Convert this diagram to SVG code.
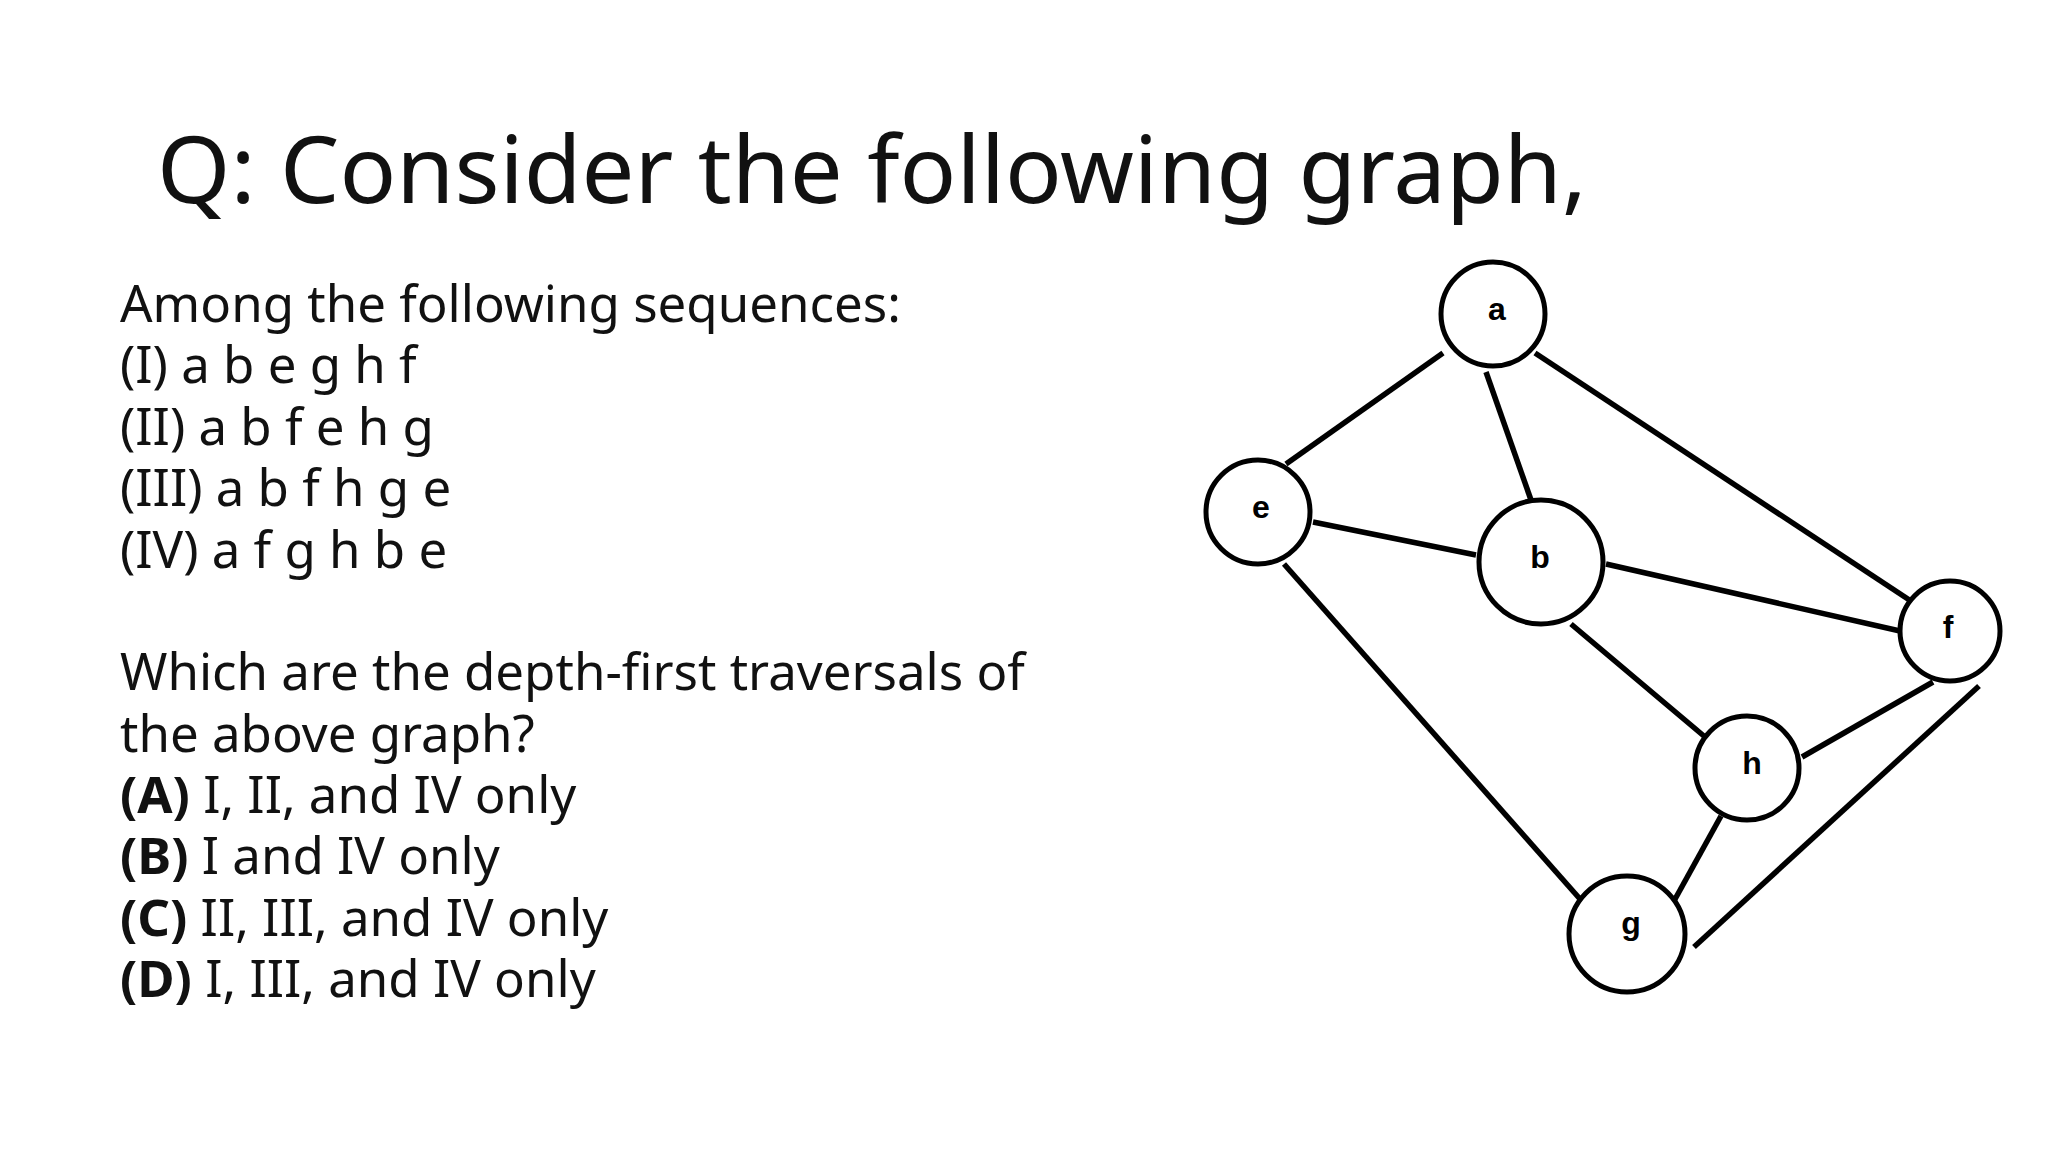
<svg xmlns="http://www.w3.org/2000/svg" width="2048" height="1152" viewBox="0 0 2048 1152">
<style>
.t{font-family:"Noto Sans","Open Sans",sans-serif;fill:#111}
.n circle{fill:#fff;stroke:#000;stroke-width:5}
.n text{font-family:"Liberation Sans",Arial,sans-serif;font-weight:bold;font-size:32px;text-anchor:middle;fill:#000}
#edges line{stroke:#000;stroke-width:5.5}
</style>
<rect width="2048" height="1152" fill="#fff"/>
<text class="t" x="157" y="203" font-size="94">Q: Consider the following graph,</text>
<g class="t" font-size="51">
<text x="120" y="322">Among the following sequences:</text>
<text x="120" y="383">(I) a b e g h f</text>
<text x="120" y="445">(II) a b f e h g</text>
<text x="120" y="506">(III) a b f h g e</text>
<text x="120" y="568">(IV) a f g h b e</text>
<text x="120" y="690">Which are the depth-first traversals of</text>
<text x="120" y="752">the above graph?</text>
<text x="120" y="813"><tspan font-weight="bold">(A)</tspan> I, II, and IV only</text>
<text x="120" y="874"><tspan font-weight="bold">(B)</tspan> I and IV only</text>
<text x="120" y="936"><tspan font-weight="bold">(C)</tspan> II, III, and IV only</text>
<text x="120" y="997"><tspan font-weight="bold">(D)</tspan> I, III, and IV only</text>
</g>
<g id="edges">
<line x1="1443" y1="353" x2="1286" y2="464"/>
<line x1="1486" y1="372" x2="1531" y2="500"/>
<line x1="1535" y1="353" x2="1920" y2="607"/>
<line x1="1313" y1="522" x2="1476" y2="555"/>
<line x1="1284" y1="564" x2="1580" y2="899"/>
<line x1="1606" y1="564" x2="1900" y2="631"/>
<line x1="1571" y1="624" x2="1711" y2="742"/>
<line x1="1802" y1="757" x2="1933" y2="682"/>
<line x1="1721" y1="816" x2="1674" y2="901"/>
<line x1="1694" y1="947" x2="1979" y2="686"/>
</g>
<g id="a" class="n"><circle cx="1493" cy="314" r="52"/><text x="1497" y="320">a</text></g>
<g id="e" class="n"><circle cx="1258" cy="512" r="52"/><text x="1261" y="518">e</text></g>
<g id="b" class="n"><circle cx="1541" cy="562" r="62"/><text x="1540" y="568">b</text></g>
<g id="f" class="n"><circle cx="1950" cy="631" r="50"/><text x="1948" y="638">f</text></g>
<g id="h" class="n"><circle cx="1747" cy="768" r="52"/><text x="1752" y="774">h</text></g>
<g id="g" class="n"><circle cx="1627" cy="934" r="58"/><text x="1631" y="934">g</text></g>
</svg>
